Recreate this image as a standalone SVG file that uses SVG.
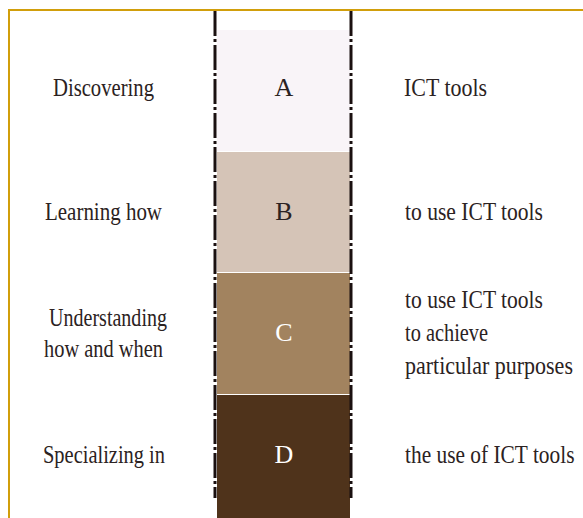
<svg xmlns="http://www.w3.org/2000/svg" width="583" height="518" viewBox="0 0 583 518">
<style>
.lbl{font-family:"Liberation Serif","Times New Roman",serif;font-size:26px;fill:#2b2222;}
.let{font-family:"Liberation Serif","Times New Roman",serif;font-size:26px;text-anchor:middle;}
.dd{stroke:#1a1010;stroke-width:3;fill:none;stroke-dasharray:25 3 3 3;}
</style>
<rect width="583" height="518" fill="#ffffff"/>
<g id="frame">
<polyline points="9,518 9,10 583,10" fill="none" stroke="#d19e0b" stroke-width="2"/>
</g>
<g id="levelA">
<rect x="217" y="30" width="133" height="121" fill="#f9f4f8"/>
<text class="let" x="284" y="96" fill="#2b2222">A</text>
<text class="lbl" x="53" y="96" textLength="101" lengthAdjust="spacingAndGlyphs">Discovering</text>
<text class="lbl" x="404" y="96" textLength="83" lengthAdjust="spacingAndGlyphs">ICT tools</text>
</g>
<g id="levelB">
<rect x="217" y="152" width="133" height="120" fill="#d5c4b7"/>
<text class="let" x="284" y="220" fill="#2b2222">B</text>
<text class="lbl" x="45" y="220" textLength="117" lengthAdjust="spacingAndGlyphs">Learning how</text>
<text class="lbl" x="405" y="220" textLength="138" lengthAdjust="spacingAndGlyphs">to use ICT tools</text>
</g>
<g id="levelC">
<rect x="217" y="273" width="133" height="121" fill="#a2835f"/>
<text class="let" x="284" y="341" fill="#ffffff">C</text>
<text class="lbl" x="49" y="326" textLength="118" lengthAdjust="spacingAndGlyphs">Understanding</text>
<text class="lbl" x="44" y="357" textLength="119" lengthAdjust="spacingAndGlyphs">how and when</text>
<text class="lbl" x="405" y="308" textLength="138" lengthAdjust="spacingAndGlyphs">to use ICT tools</text>
<text class="lbl" x="405" y="341" textLength="83" lengthAdjust="spacingAndGlyphs">to achieve</text>
<text class="lbl" transform="translate(405,374) scale(0.846,1)" x="0" y="0">particular purposes</text>
</g>
<g id="levelD">
<rect x="217" y="395" width="133" height="123" fill="#4f331b"/>
<text class="let" x="284" y="463" fill="#ffffff">D</text>
<text class="lbl" x="43" y="463" textLength="122" lengthAdjust="spacingAndGlyphs">Specializing in</text>
<text class="lbl" transform="translate(405,463) scale(0.823,1)" x="0" y="0">the use of ICT tools</text>
</g>
<g id="connectors">
<line class="dd" x1="215" y1="11" x2="215" y2="498"/>
<line class="dd" x1="351" y1="11" x2="351" y2="498"/>
</g>
</svg>
